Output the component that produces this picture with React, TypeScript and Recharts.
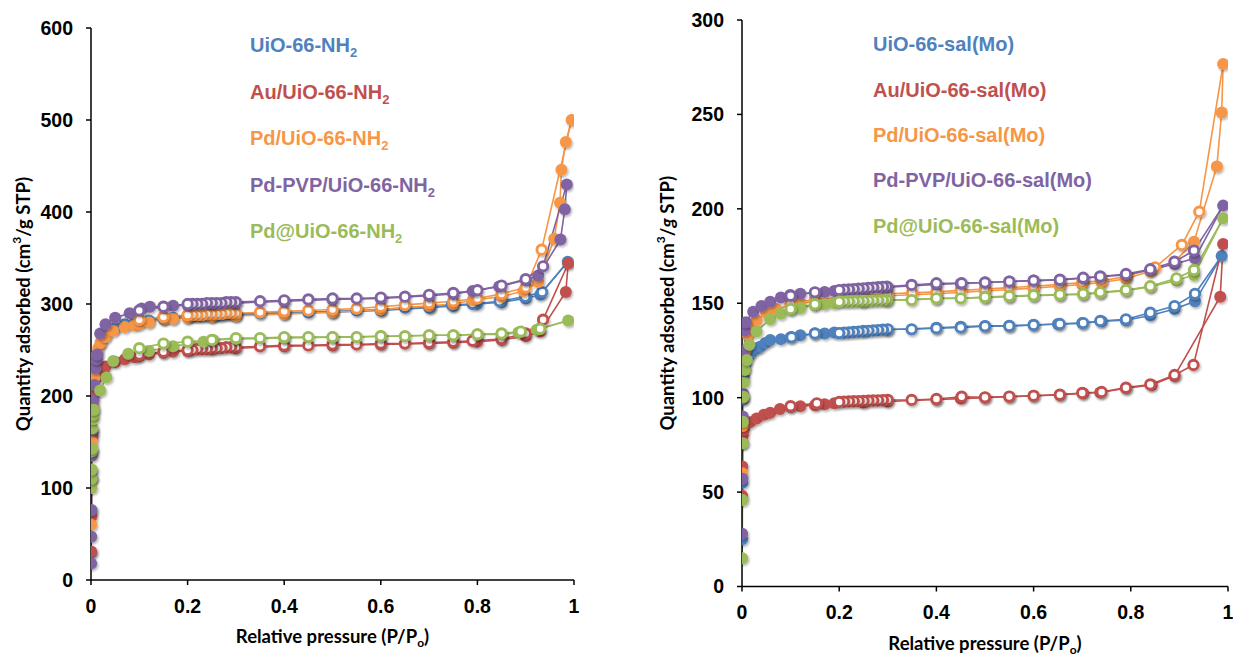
import React from 'react';
import { ComposedChart, Line, XAxis, YAxis, Label } from 'recharts';

type Pt = [number, number];

const COLORS = ['#4F81BD', '#C0504D', '#F79646', '#8064A2', '#9BBB59'];

// ---------- Left panel: UiO-66-NH2 family ----------
const NH2_NAMES = ['UiO-66-NH|2', 'Au/UiO-66-NH|2', 'Pd/UiO-66-NH|2', 'Pd-PVP/UiO-66-NH|2', 'Pd@UiO-66-NH|2'];

const nh2BlueAds: Pt[] = [[0.0003,30],[0.0008,75],[0.0015,118],[0.003,160],[0.005,200],[0.008,228],[0.012,245],[0.02,258],[0.03,266],[0.05,274],[0.07,278],[0.09,280],[0.1,281],[0.12,282],[0.15,284],[0.17,285],[0.2,286],[0.25,287],[0.3,288],[0.4,290],[0.5,291],[0.6,293],[0.7,296],[0.75,298],[0.8,300],[0.85,302],[0.9,306],[0.93,310],[0.987,346]];
const nh2BlueDes: Pt[] = [[0.987,346],[0.934,313],[0.899,308],[0.846,303],[0.79,300],[0.747,299],[0.703,297],[0.65,296],[0.6,294],[0.55,293],[0.5,292],[0.45,291],[0.4,291],[0.35,290],[0.3,289],[0.29,289],[0.28,289],[0.27,288],[0.26,288],[0.25,288],[0.24,288],[0.23,287],[0.22,287],[0.21,287],[0.2,287],[0.15,285],[0.1,282]];

const nh2RedAds: Pt[] = [[0.0003,31],[0.0008,69],[0.0015,110],[0.002,141],[0.003,156],[0.005,185],[0.008,205],[0.012,220],[0.02,228],[0.03,232],[0.05,237],[0.07,240],[0.09,242],[0.1,243],[0.12,245],[0.15,247],[0.17,248],[0.2,249],[0.25,251],[0.3,252],[0.4,254],[0.5,255],[0.6,256],[0.7,257],[0.75,258],[0.8,259],[0.85,261],[0.9,265],[0.93,270],[0.983,313],[0.988,344]];
const nh2RedDes: Pt[] = [[0.988,344],[0.936,283],[0.9,268],[0.85,262],[0.79,260],[0.75,259],[0.7,258],[0.65,257],[0.6,257],[0.55,256],[0.5,256],[0.45,255],[0.4,255],[0.35,254],[0.3,253],[0.29,253],[0.28,253],[0.27,252],[0.26,252],[0.25,252],[0.24,251],[0.23,251],[0.22,251],[0.21,250],[0.2,250],[0.15,248],[0.1,245]];

const nh2OrangeAds: Pt[] = [[0.0005,60],[0.001,110],[0.002,150],[0.004,190],[0.007,220],[0.01,240],[0.015,252],[0.02,258],[0.03,264],[0.046,271],[0.07,275],[0.09,277],[0.1,278],[0.12,280],[0.153,284],[0.17,284],[0.2,285],[0.25,286],[0.3,287],[0.4,289],[0.5,291],[0.6,294],[0.7,298],[0.75,300],[0.79,304],[0.85,308],[0.895,314],[0.926,324],[0.959,371],[0.971,410],[0.974,446],[0.983,476],[0.995,500]];
const nh2OrangeDes: Pt[] = [[0.995,500],[0.933,359],[0.9,318],[0.85,311],[0.8,306],[0.75,303],[0.7,301],[0.65,299],[0.6,297],[0.55,295],[0.5,294],[0.45,293],[0.4,292],[0.35,291],[0.3,290],[0.29,290],[0.28,290],[0.27,289],[0.26,289],[0.25,289],[0.24,289],[0.23,288],[0.22,288],[0.21,288],[0.2,288],[0.15,286],[0.1,283]];

const nh2PurpleAds: Pt[] = [[0.0003,18],[0.0006,47],[0.001,76],[0.002,135],[0.003,163],[0.005,195],[0.007,212],[0.009,230],[0.011,240],[0.013,245],[0.019,268],[0.03,278],[0.05,285],[0.08,290],[0.105,295],[0.122,297],[0.15,297],[0.17,298],[0.2,299],[0.25,300],[0.3,301],[0.4,303],[0.5,305],[0.6,306],[0.7,309],[0.75,311],[0.79,314],[0.845,319],[0.9,326],[0.926,331],[0.972,370],[0.981,403],[0.985,430]];
const nh2PurpleDes: Pt[] = [[0.985,430],[0.936,341],[0.9,327],[0.85,320],[0.8,315],[0.75,312],[0.7,310],[0.65,308],[0.6,307],[0.55,306],[0.5,306],[0.45,305],[0.4,304],[0.35,303],[0.3,302],[0.29,302],[0.28,302],[0.27,301],[0.26,301],[0.25,301],[0.24,301],[0.23,300],[0.22,300],[0.21,300],[0.2,300],[0.15,297],[0.1,293]];

const nh2GreenAds: Pt[] = [[0.001,100],[0.0013,110],[0.0016,120],[0.002,140],[0.0025,143],[0.003,165],[0.004,175],[0.005,180],[0.006,185],[0.019,206],[0.032,220],[0.046,238],[0.077,246],[0.12,249],[0.17,254],[0.233,259],[0.253,261],[0.3,262],[0.4,263],[0.5,264],[0.6,265],[0.7,266],[0.75,266],[0.8,267],[0.85,267],[0.885,269],[0.923,272],[0.988,282]];
const nh2GreenDes: Pt[] = [[0.988,282],[0.93,273],[0.89,270],[0.85,268],[0.8,267],[0.75,266],[0.7,266],[0.65,265],[0.6,265],[0.55,264],[0.5,264],[0.45,264],[0.4,264],[0.35,263],[0.3,263],[0.25,261],[0.2,259],[0.15,257],[0.1,252]];

// ---------- Right panel: UiO-66-sal(Mo) family ----------
const SAL_NAMES = ['UiO-66-sal(Mo)', 'Au/UiO-66-sal(Mo)', 'Pd/UiO-66-sal(Mo)', 'Pd-PVP/UiO-66-sal(Mo)', 'Pd@UiO-66-sal(Mo)'];

const salBlueAds: Pt[] = [[0.0002,25],[0.0006,55],[0.0012,86],[0.002,99],[0.004,111],[0.008,118],[0.014,122],[0.02,124],[0.03,126],[0.037,127],[0.048,129],[0.058,130.5],[0.08,131],[0.1,132],[0.12,133],[0.15,134],[0.17,134],[0.19,134.5],[0.25,135.5],[0.3,136],[0.4,137],[0.45,137.5],[0.5,138],[0.55,138],[0.6,138.5],[0.65,139],[0.7,139.5],[0.74,140.5],[0.79,141],[0.84,143.5],[0.89,147],[0.932,151],[0.987,175]];
const salBlueDes: Pt[] = [[0.987,175],[0.932,155],[0.89,148.5],[0.84,145],[0.79,141.5],[0.737,140.6],[0.702,139.5],[0.654,139],[0.6,138.5],[0.55,138],[0.5,137.8],[0.45,137.2],[0.4,136.8],[0.349,136.2],[0.3,136.2],[0.29,136],[0.28,135.8],[0.27,135.6],[0.26,135.4],[0.25,135.2],[0.24,135],[0.23,134.8],[0.22,134.6],[0.21,134.4],[0.2,134.2],[0.15,134],[0.102,132]];

const salRedAds: Pt[] = [[0.0003,48],[0.0006,63.5],[0.001,76],[0.0015,80],[0.004,83],[0.016,87],[0.03,89],[0.045,91],[0.058,92],[0.078,94],[0.1,95],[0.12,95.5],[0.15,96],[0.17,96.5],[0.19,97],[0.25,97.5],[0.3,98],[0.4,99],[0.45,99.5],[0.5,100],[0.55,100.5],[0.6,101],[0.654,101.4],[0.702,102.3],[0.737,102.7],[0.79,105],[0.843,106.7],[0.89,111.5],[0.984,153.5],[0.99,181.4]];
const salRedDes: Pt[] = [[0.99,181.4],[0.929,117.3],[0.89,112],[0.84,107],[0.79,105.3],[0.74,103],[0.7,102.5],[0.654,101.6],[0.6,101],[0.55,100.6],[0.5,100.2],[0.452,100.5],[0.4,99.3],[0.349,98.8],[0.3,98.8],[0.29,98.7],[0.28,98.6],[0.27,98.5],[0.26,98.4],[0.25,98.3],[0.24,98.2],[0.23,98.1],[0.22,98],[0.21,97.9],[0.2,97.7],[0.154,97],[0.1,95.5]];

const salOrangeAds: Pt[] = [[0.0005,60],[0.001,85],[0.002,100],[0.004,115],[0.007,125],[0.012,133],[0.02,138],[0.03,141],[0.05,145],[0.07,147],[0.1,149],[0.12,150],[0.15,151],[0.2,152],[0.25,153],[0.3,154],[0.4,155],[0.5,156.5],[0.6,158],[0.654,159],[0.7,160],[0.74,161],[0.79,163],[0.84,167],[0.89,172],[0.93,182.6],[0.977,222.4],[0.987,251],[0.99,276.7]];
const salOrangeDes: Pt[] = [[0.99,276.7],[0.941,198.5],[0.905,180.9],[0.85,169],[0.79,164],[0.74,162],[0.7,161],[0.654,160],[0.6,159],[0.55,158.3],[0.5,157.5],[0.45,156.8],[0.4,156],[0.35,155.5],[0.3,155],[0.25,154],[0.2,153],[0.15,152],[0.1,150]];

const salPurpleAds: Pt[] = [[0.0003,28],[0.0008,57],[0.0015,90],[0.003,102],[0.004,115],[0.005,125],[0.006,135.6],[0.008,140],[0.023,145.5],[0.04,148.5],[0.058,150.8],[0.08,153],[0.099,154.4],[0.12,155],[0.15,155.6],[0.17,156],[0.19,156.5],[0.25,157.5],[0.3,158.5],[0.4,160],[0.45,160.5],[0.5,161],[0.55,161.5],[0.6,162],[0.654,162.3],[0.702,163.2],[0.737,164],[0.79,165],[0.84,167.6],[0.89,170.8],[0.932,173.8],[0.99,201.7]];
const salPurpleDes: Pt[] = [[0.99,201.7],[0.93,177.9],[0.89,172],[0.84,168],[0.79,165.5],[0.737,164.2],[0.702,163.5],[0.654,162.5],[0.6,162],[0.55,161.5],[0.5,161],[0.452,160.6],[0.4,160.6],[0.349,159.7],[0.298,158.8],[0.29,158.7],[0.28,158.5],[0.27,158.3],[0.26,158.1],[0.25,157.9],[0.24,157.7],[0.23,157.5],[0.22,157.3],[0.21,157.2],[0.2,157],[0.15,155.8],[0.1,154]];

const salGreenAds: Pt[] = [[0.0005,15],[0.001,45.8],[0.0015,75.8],[0.002,87.3],[0.003,100.5],[0.004,108],[0.006,114.7],[0.01,120],[0.015,128],[0.03,135],[0.058,141.5],[0.08,144.5],[0.102,146.5],[0.12,147.5],[0.15,149],[0.17,149.5],[0.19,150],[0.25,150.8],[0.3,151.5],[0.4,152.5],[0.5,153],[0.55,153.5],[0.6,154],[0.654,154.4],[0.702,154.6],[0.737,155.5],[0.79,156.7],[0.84,158.8],[0.894,162],[0.93,165],[0.99,195]];
const salGreenDes: Pt[] = [[0.99,195],[0.93,167.6],[0.894,163.2],[0.84,159],[0.79,157],[0.737,155.8],[0.702,155],[0.654,154.6],[0.6,154.2],[0.55,153.8],[0.5,153.3],[0.45,152.6],[0.4,152.6],[0.349,151.7],[0.298,151.7],[0.29,151.6],[0.28,151.5],[0.27,151.4],[0.26,151.3],[0.25,151.2],[0.24,151.1],[0.23,151],[0.22,150.9],[0.21,150.9],[0.2,150.8],[0.15,149.5],[0.1,147]];

const X_TICKS = [0, 0.2, 0.4, 0.6, 0.8, 1];
const NH2_Y_TICKS = [0, 100, 200, 300, 400, 500, 600];
const SAL_Y_TICKS = [0, 50, 100, 150, 200, 250, 300];

const NH2_SERIES: [Pt[], Pt[]][] = [
  [nh2BlueAds, nh2BlueDes], [nh2RedAds, nh2RedDes], [nh2OrangeAds, nh2OrangeDes],
  [nh2PurpleAds, nh2PurpleDes], [nh2GreenAds, nh2GreenDes],
];
const SAL_SERIES: [Pt[], Pt[]][] = [
  [salBlueAds, salBlueDes], [salRedAds, salRedDes], [salOrangeAds, salOrangeDes],
  [salPurpleAds, salPurpleDes], [salGreenAds, salGreenDes],
];

const TICK_FONT = '"Liberation Sans", Arial, sans-serif';
const TITLE_FONT = 'Lato, "Open Sans", sans-serif';

const toXY = (pts: Pt[]) => pts.map(([x, y]) => ({ x, y }));

const filledDot = (color: string) => (props: any) => {
  const { cx, cy, index } = props;
  return <circle key={`f${index}`} cx={cx} cy={cy} r={6} fill={color} stroke="none" filter="url(#mkShadow)" />;
};
const openDot = (color: string) => (props: any) => {
  const { cx, cy, index } = props;
  if (index === 0) return <g key={`o${index}`} />;
  return <circle key={`o${index}`} cx={cx} cy={cy} r={4.7} fill="#ffffff" stroke={color} strokeWidth={2.9} filter="url(#mkShadow)" />;
};

type PanelProps = {
  series: [Pt[], Pt[]][];
  yMax: number;
  yTicks: number[];
  width: number;
  height: number;
  margin: { top: number; right: number; bottom: number; left: number };
  yAxisWidth: number;
  yTitleX: number;
  italicG: boolean;
};

function Panel({ series, yMax, yTicks, width, height, margin, yAxisWidth, yTitleX, italicG }: PanelProps) {
  const xTitle = (p: any) => {
    const vb = p.viewBox || {};
    const cx = vb.x + vb.width / 2;
    return (
      <text x={cx} y={vb.y + 63} textAnchor="middle" fontFamily={TITLE_FONT} fontWeight={700} fontSize={18.5} fill="#000">
        Relative pressure (P/P<tspan dy={4} fontSize={12}>o</tspan><tspan dy={-4}>)</tspan>
      </text>
    );
  };
  const yTitle = (p: any) => {
    const vb = p.viewBox || {};
    const cy = vb.y + vb.height / 2;
    const cx = yTitleX;
    return (
      <text x={cx} y={cy} transform={`rotate(-90 ${cx} ${cy})`} textAnchor="middle" dominantBaseline="central"
        fontFamily={TITLE_FONT} fontWeight={700} fontSize={18.5} fill="#000">
        Quantity adsorbed (cm<tspan dy={-7} fontSize={12}>3</tspan><tspan dy={7}>/</tspan>
        <tspan fontStyle={italicG ? 'italic' : 'normal'}>g</tspan> STP)
      </text>
    );
  };
  return (
    <ComposedChart width={width} height={height} margin={margin}>
      <XAxis type="number" dataKey="x" domain={[0, 1]} ticks={X_TICKS} allowDataOverflow
        tick={{ fontSize: 19.5, fontWeight: 700, fill: '#000', fontFamily: TICK_FONT }}
        tickLine={{ stroke: '#000', strokeWidth: 1.5 }} axisLine={{ stroke: '#000', strokeWidth: 1.5 }}
        tickSize={5} tickMargin={14} height={40}>
        <Label content={xTitle} />
      </XAxis>
      <YAxis type="number" domain={[0, yMax]} ticks={yTicks} width={yAxisWidth} allowDataOverflow
        tick={{ fontSize: 19.5, fontWeight: 700, fill: '#000', fontFamily: TICK_FONT }}
        tickLine={{ stroke: '#000', strokeWidth: 1.5 }} axisLine={{ stroke: '#000', strokeWidth: 1.5 }}
        tickSize={5} tickMargin={13}>
        <Label content={yTitle} />
      </YAxis>
      {series.flatMap(([ads, des], i) => [
        <Line key={`a${i}`} data={toXY(ads)} dataKey="y" type="linear" stroke={COLORS[i]} strokeWidth={1.6}
          dot={filledDot(COLORS[i])} activeDot={false} isAnimationActive={false} legendType="none" />,
        <Line key={`d${i}`} data={toXY(des)} dataKey="y" type="linear" stroke={COLORS[i]} strokeWidth={1.6}
          dot={openDot(COLORS[i])} activeDot={false} isAnimationActive={false} legendType="none" />,
      ])}
    </ComposedChart>
  );
}

function LegendBlock({ names, left, top, lineHeight }: { names: string[]; left: number; top: number; lineHeight: number }) {
  return (
    <div style={{ position: 'absolute', left, top, fontFamily: TICK_FONT, fontWeight: 700, fontSize: 20, lineHeight: `${lineHeight}px`, whiteSpace: 'nowrap' }}>
      {names.map((n, i) => {
        const [base, sub] = n.split('|');
        return (
          <div key={n} style={{ color: COLORS[i], height: lineHeight }}>
            {base}
            {sub ? <span style={{ fontSize: 13, position: 'relative', top: 5 }}>{sub}</span> : null}
          </div>
        );
      })}
    </div>
  );
}

export default function App() {
  return (
    <div style={{ position: 'absolute', left: 0, top: 0, width: 1233, height: 656, background: '#fff', overflow: 'hidden' }}>
      <svg width={0} height={0} style={{ position: 'absolute' }}>
        <defs>
          <filter id="mkShadow" x="-50%" y="-50%" width="200%" height="200%">
            <feDropShadow dx={1.2} dy={1.8} stdDeviation={1.2} floodColor="#000" floodOpacity={0.3} />
          </filter>
        </defs>
      </svg>
      <div style={{ position: 'absolute', left: 0, top: 0 }}>
        <Panel series={NH2_SERIES} yMax={600} yTicks={NH2_Y_TICKS} width={620} height={656}
          margin={{ top: 28, right: 46, bottom: 36, left: 0 }} yAxisWidth={91} yTitleX={23} italicG={false} />
      </div>
      <LegendBlock names={NH2_NAMES} left={250} top={22} lineHeight={46.5} />
      <div style={{ position: 'absolute', left: 650, top: 0 }}>
        <Panel series={SAL_SERIES} yMax={300} yTicks={SAL_Y_TICKS} width={583} height={656}
          margin={{ top: 20, right: 5, bottom: 29.5, left: 0 }} yAxisWidth={92} yTitleX={17} italicG={true} />
      </div>
      <LegendBlock names={SAL_NAMES} left={873} top={22.4} lineHeight={45.3} />
    </div>
  );
}
